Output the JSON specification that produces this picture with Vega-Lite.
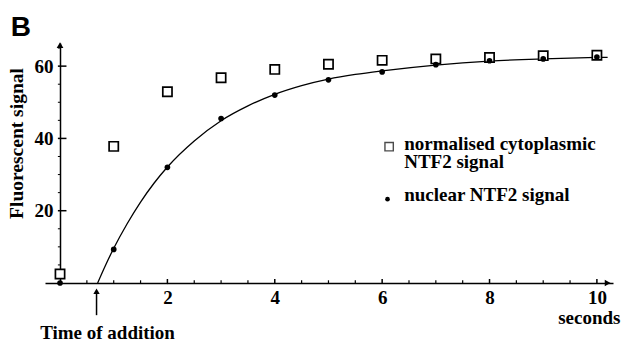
{
  "$schema": "https://vega.github.io/schema/vega-lite/v6.json",
  "width": 568,
  "height": 240,
  "autosize": {"type": "none"},
  "padding": {"left": 45, "top": 43, "right": 10, "bottom": 59},
  "background": "white",
  "config": {"view": {"stroke": null}},
  "datasets": {
    "points": [
      {"t": 0, "v": 2.5, "series": "cyto"},
      {"t": 1, "v": 37.8, "series": "cyto"},
      {"t": 2, "v": 52.9, "series": "cyto"},
      {"t": 3, "v": 56.8, "series": "cyto"},
      {"t": 4, "v": 59.1, "series": "cyto"},
      {"t": 5, "v": 60.5, "series": "cyto"},
      {"t": 6, "v": 61.6, "series": "cyto"},
      {"t": 7, "v": 62.0, "series": "cyto"},
      {"t": 8, "v": 62.4, "series": "cyto"},
      {"t": 9, "v": 62.9, "series": "cyto"},
      {"t": 10, "v": 63.0, "series": "cyto"},
      {"t": 0, "v": 0, "series": "nuc"},
      {"t": 1, "v": 9.3, "series": "nuc"},
      {"t": 2, "v": 32.0, "series": "nuc"},
      {"t": 3, "v": 45.5, "series": "nuc"},
      {"t": 4, "v": 52.0, "series": "nuc"},
      {"t": 5, "v": 56.2, "series": "nuc"},
      {"t": 6, "v": 58.4, "series": "nuc"},
      {"t": 7, "v": 60.4, "series": "nuc"},
      {"t": 8, "v": 61.5, "series": "nuc"},
      {"t": 9, "v": 62.0, "series": "nuc"},
      {"t": 10, "v": 62.5, "series": "nuc"}
    ],
    "curve": [
      {"t": 0.7, "v": 0},
      {"t": 0.85, "v": 5.0},
      {"t": 1.0, "v": 9.6},
      {"t": 1.25, "v": 16.4},
      {"t": 1.5, "v": 22.4},
      {"t": 1.75, "v": 27.6},
      {"t": 2.0, "v": 32.1},
      {"t": 2.5, "v": 39.3},
      {"t": 3.0, "v": 44.9},
      {"t": 3.5, "v": 49.0},
      {"t": 4.0, "v": 52.2},
      {"t": 4.5, "v": 54.6},
      {"t": 5.0, "v": 56.4},
      {"t": 5.5, "v": 57.7},
      {"t": 6.0, "v": 58.7},
      {"t": 7.0, "v": 60.3},
      {"t": 8.0, "v": 61.4},
      {"t": 9.0, "v": 62.0},
      {"t": 10.0, "v": 62.4},
      {"t": 10.2, "v": 62.45}
    ],
    "minor_t": [
      {"t": 0.5}, {"t": 1}, {"t": 1.5}, {"t": 2.5}, {"t": 3}, {"t": 3.5}, {"t": 4.5}, {"t": 5}, {"t": 5.5},
      {"t": 6.5}, {"t": 7}, {"t": 7.5}, {"t": 8.5}, {"t": 9}, {"t": 9.5}
    ],
    "major_t": [{"t": 2}, {"t": 4}, {"t": 6}, {"t": 8}, {"t": 10}],
    "minor_v": [
      {"v": 5}, {"v": 10}, {"v": 15}, {"v": 25}, {"v": 30}, {"v": 35}, {"v": 45}, {"v": 50}, {"v": 55}, {"v": 65}
    ],
    "major_v": [{"v": 20}, {"v": 40}, {"v": 60}],
    "one": [{}]
  },
  "layer": [
    {
      "data": {"name": "curve"},
      "mark": {"type": "line", "color": "black", "strokeWidth": 1.3, "interpolate": "monotone"},
      "encoding": {
        "x": {"field": "t", "type": "quantitative", "scale": {"domain": [-0.28, 10.3], "nice": false, "zero": false},
          "axis": {"orient": "bottom", "values": [2, 4, 6, 8, 10], "format": "d", "grid": false, "domain": true, "domainColor": "black", "domainWidth": 1.5, "ticks": false,
            "labelPadding": 5, "labelFont": "Liberation Serif", "labelFontWeight": "bold", "labelFontSize": 19, "labelColor": "black", "labelBaseline": "top", "labelFlush": false,
            "title": "seconds", "titleFont": "Liberation Serif", "titleFontWeight": "bold", "titleFontSize": 19, "titleColor": "black", "titleAnchor": "end", "titleAlign": "right", "titleX": 575, "titleY": 40, "titleBaseline": "alphabetic"}},
        "y": {"field": "v", "type": "quantitative", "scale": {"domain": [0, 66.4], "nice": false, "zero": false},
          "axis": {"orient": "left", "offset": -15, "values": [20, 40, 60], "format": "d", "grid": false, "domain": true, "domainColor": "black", "domainWidth": 1.5, "ticks": false,
            "labelPadding": 7, "labelFont": "Liberation Serif", "labelFontWeight": "bold", "labelFontSize": 19, "labelColor": "black", "labelBaseline": "middle", "labelFlush": false,
            "title": "Fluorescent signal", "titleFont": "Liberation Serif", "titleFontWeight": "bold", "titleFontSize": 19.5, "titleColor": "black", "titlePadding": 8, "titleY": 100}}
      }
    },
    {
      "data": {"name": "minor_t"},
      "mark": {"type": "rule", "color": "black", "strokeWidth": 1.2},
      "encoding": {"x": {"field": "t", "type": "quantitative"}, "y": {"datum": 0}, "y2": {"datum": 0.75}}
    },
    {
      "data": {"name": "major_t"},
      "mark": {"type": "rule", "color": "black", "strokeWidth": 1.5},
      "encoding": {"x": {"field": "t", "type": "quantitative"}, "y": {"datum": -0.3}, "y2": {"datum": 1.1}}
    },
    {
      "data": {"name": "minor_v"},
      "mark": {"type": "rule", "color": "black", "strokeWidth": 1},
      "encoding": {"y": {"field": "v", "type": "quantitative"}, "x": {"datum": -0.04}, "x2": {"datum": 0}}
    },
    {
      "data": {"name": "major_v"},
      "mark": {"type": "rule", "color": "black", "strokeWidth": 1.5},
      "encoding": {"y": {"field": "v", "type": "quantitative"}, "x": {"datum": -0.04}, "x2": {"datum": 0.12}}
    },
    {
      "data": {"name": "points"},
      "transform": [{"filter": "datum.series == 'cyto'"}],
      "mark": {"type": "point", "shape": "square", "filled": false, "stroke": "black", "strokeWidth": 1.7, "size": 85, "fill": "white", "fillOpacity": 1},
      "encoding": {"x": {"field": "t", "type": "quantitative"}, "y": {"field": "v", "type": "quantitative"}}
    },
    {
      "data": {"name": "points"},
      "transform": [{"filter": "datum.series == 'nuc'"}],
      "mark": {"type": "point", "shape": "circle", "filled": true, "color": "black", "size": 32, "opacity": 1},
      "encoding": {"x": {"field": "t", "type": "quantitative"}, "y": {"field": "v", "type": "quantitative"}}
    },
    {"data": {"name": "one"}, "mark": {"type": "point", "shape": "triangle-right", "filled": true, "color": "black", "size": 45, "opacity": 1},
      "encoding": {"x": {"datum": 10.2}, "y": {"datum": 0}}},
    {"data": {"name": "one"}, "mark": {"type": "point", "shape": "triangle-up", "filled": true, "color": "black", "size": 45, "opacity": 1},
      "encoding": {"x": {"datum": 0}, "y": {"datum": 65.8}}},
    {"data": {"name": "one"}, "mark": {"type": "rule", "color": "black", "strokeWidth": 1.5},
      "encoding": {"x": {"datum": 0.68}, "y": {"datum": -2.5}, "y2": {"datum": -8.9}}},
    {"data": {"name": "one"}, "mark": {"type": "point", "shape": "triangle-up", "filled": true, "color": "black", "size": 40, "opacity": 1},
      "encoding": {"x": {"datum": 0.68}, "y": {"datum": -2.3}}},
    {"data": {"name": "one"}, "mark": {"type": "text", "font": "Liberation Serif", "fontWeight": "bold", "fontSize": 19, "color": "black", "align": "center", "baseline": "alphabetic"},
      "encoding": {"x": {"datum": 0.885}, "y": {"datum": -15.5}, "text": {"value": "Time of addition"}}},
    {"data": {"name": "one"}, "mark": {"type": "text", "font": "Liberation Sans", "fontWeight": "bold", "fontSize": 28, "color": "black", "align": "left", "baseline": "alphabetic"},
      "encoding": {"x": {"datum": -0.92}, "y": {"datum": 68.2}, "text": {"value": "B"}}},
    {"data": {"name": "one"}, "mark": {"type": "point", "shape": "square", "filled": false, "stroke": "black", "strokeWidth": 1.4, "size": 70},
      "encoding": {"x": {"datum": 6.13}, "y": {"datum": 37.7}}},
    {"data": {"name": "one"}, "mark": {"type": "point", "shape": "circle", "filled": true, "color": "black", "size": 22, "opacity": 1},
      "encoding": {"x": {"datum": 6.1}, "y": {"datum": 23.2}}},
    {"data": {"name": "one"}, "mark": {"type": "text", "font": "Liberation Serif", "fontWeight": "bold", "fontSize": 19, "color": "black", "align": "left", "baseline": "alphabetic"},
      "encoding": {"x": {"datum": 6.41}, "y": {"datum": 36.8}, "text": {"value": "normalised cytoplasmic"}}},
    {"data": {"name": "one"}, "mark": {"type": "text", "font": "Liberation Serif", "fontWeight": "bold", "fontSize": 19, "color": "black", "align": "left", "baseline": "alphabetic"},
      "encoding": {"x": {"datum": 6.41}, "y": {"datum": 31.9}, "text": {"value": "NTF2 signal"}}},
    {"data": {"name": "one"}, "mark": {"type": "text", "font": "Liberation Serif", "fontWeight": "bold", "fontSize": 19, "color": "black", "align": "left", "baseline": "alphabetic"},
      "encoding": {"x": {"datum": 6.41}, "y": {"datum": 22.7}, "text": {"value": "nuclear NTF2 signal"}}}
  ]
}
